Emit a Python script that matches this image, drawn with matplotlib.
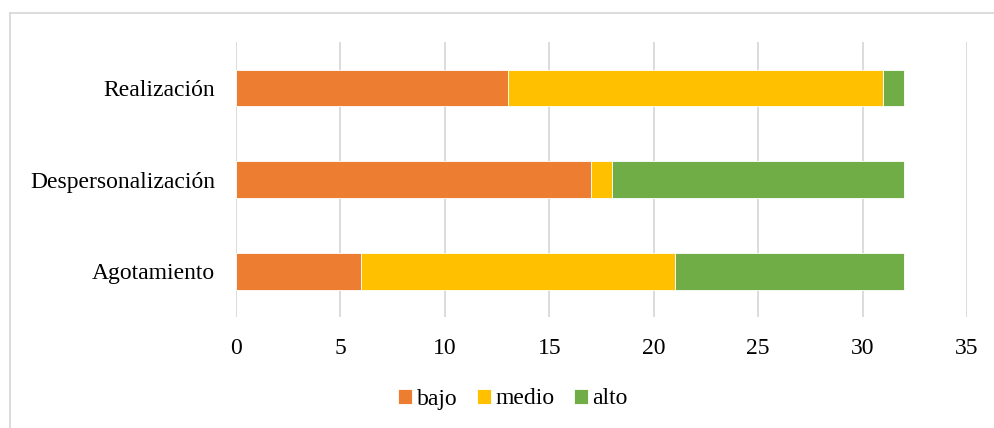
import matplotlib
matplotlib.use("Agg")
import matplotlib.pyplot as plt
from matplotlib.lines import Line2D

categories = ["Agotamiento", "Despersonalización", "Realización"]
series_names = ["bajo", "medio", "alto"]
bajo = [6, 17, 13]
medio = [15, 1, 18]
alto = [11, 14, 1]
xticks = [0, 5, 10, 15, 20, 25, 30, 35]

colors = ["#ED7D31", "#FFC000", "#70AD47"]

plt.rcParams['font.family'] = ['Liberation Serif', 'DejaVu Serif']

fig = plt.figure(figsize=(9.95, 4.28), dpi=100)
ax = fig.add_axes([236/995, 1-317/428, (967-236)/995, (317-42)/428])

y = list(range(len(categories)))
left = [0]*len(categories)
for name, vals, c in zip(series_names, [bajo, medio, alto], colors):
    ax.barh(y, vals, left=left, height=0.4, color=c, label=name,
            edgecolor="white", linewidth=0.6, zorder=3)
    left = [l+v for l, v in zip(left, vals)]

ax.set_xlim(0, 35)
ax.set_ylim(-0.5, 2.5)
ax.set_xticks(xticks)
ax.set_yticks(y)
ax.set_yticklabels(categories)
ax.grid(axis='x', color='#D9D9D9', linewidth=1.3, zorder=0)
ax.set_axisbelow(True)
for s in ax.spines.values():
    s.set_visible(False)
ax.tick_params(axis='both', length=0, labelsize=17, colors='#000000')
ax.tick_params(axis='x', pad=15)
ax.tick_params(axis='y', pad=15)

leg = fig.legend(loc='center', bbox_to_anchor=(513/995, 1-399/428), ncol=3,
                 frameon=False, fontsize=17, handlelength=0.6, handleheight=0.6,
                 handletextpad=0.2, columnspacing=0.8)

# chart border
fig.add_artist(Line2D([10/995, 10/995], [0, 1-13/428], transform=fig.transFigure, color='#D9D9D9', linewidth=1.3))
fig.add_artist(Line2D([10/995, 1], [1-13/428, 1-13/428], transform=fig.transFigure, color='#D9D9D9', linewidth=1.3))

fig.savefig("out.png", dpi=100)
